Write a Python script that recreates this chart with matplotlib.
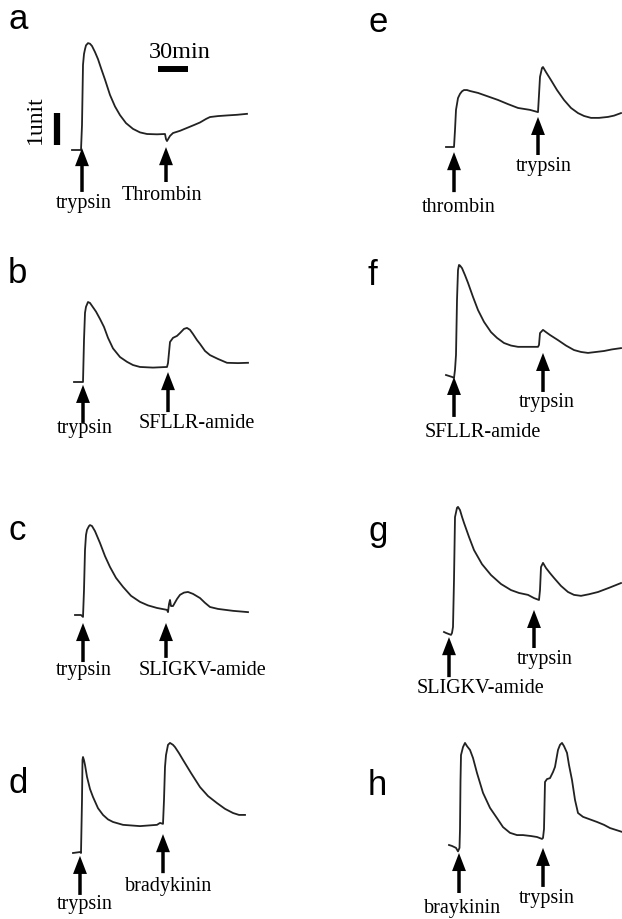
import matplotlib
matplotlib.use('Agg')
import matplotlib.pyplot as plt

# traces: time (min, 0 = first addition) and response (units, 0 = starting baseline)
a_t = [-10, -1, 0, 1, 2, 3, 4, 6, 8, 10, 13, 16, 19, 23, 28, 33, 38, 44, 51, 58, 65, 75, 83, 84, 85, 88, 91,
       98, 105, 112, 118, 124, 128, 136, 145, 155, 165]
a_v = [0, 0, 0.78, 2.66, 3.0, 3.15, 3.27, 3.34, 3.32, 3.25, 3.06, 2.84, 2.56, 2.2, 1.72, 1.36, 1.09, 0.84, 0.66,
       0.55, 0.5, 0.49, 0.5, 0.34, 0.28, 0.44, 0.53, 0.6, 0.69, 0.78, 0.86, 0.97, 1.03, 1.06, 1.08, 1.1, 1.13]

b_t = [-9, -1, 0, 1, 2, 3, 5, 7, 9, 13, 17, 21, 25, 30, 37, 44, 50, 57, 70, 84, 85, 87, 90, 94, 97, 101, 104,
       107, 110, 114, 117, 122, 127, 135, 144, 155, 165]
b_v = [0, 0, 0, 1.31, 2.16, 2.35, 2.5, 2.47, 2.38, 2.2, 1.97, 1.72, 1.38, 1.05, 0.78, 0.63, 0.53, 0.47, 0.45,
       0.47, 0.59, 1.25, 1.38, 1.44, 1.53, 1.66, 1.69, 1.63, 1.5, 1.31, 1.19, 0.97, 0.84, 0.72, 0.6, 0.59, 0.6]

c_t = [-8, -2, 0, 1, 2, 3, 4, 6, 7, 9, 12, 17, 22, 27, 33, 40, 48, 57, 65, 74, 84, 85, 86, 87, 88, 90, 94, 97,
       101, 105, 110, 117, 122, 127, 135, 150, 165]
c_v = [0, 0, -0.06, 0.78, 2.03, 2.5, 2.66, 2.78, 2.81, 2.78, 2.62, 2.25, 1.84, 1.5, 1.16, 0.88, 0.6, 0.41, 0.3,
       0.22, 0.16, 0.09, 0.34, 0.47, 0.28, 0.28, 0.5, 0.63, 0.7, 0.72, 0.66, 0.53, 0.38, 0.25, 0.19, 0.13, 0.09]

d_t = [-8, -1, 0, 1, 1.5, 2, 3, 4, 6, 9, 12, 17, 22, 27, 32, 42, 59, 76, 79, 82, 83, 84, 85, 87, 89, 92, 94,
       98, 102, 110, 119, 127, 136, 144, 152, 158, 164]
d_v = [0, 0.03, 0, 1.66, 2.91, 3.0, 2.9, 2.75, 2.38, 2.0, 1.75, 1.4, 1.19, 1.05, 0.97, 0.88, 0.84, 0.88, 0.94,
       0.91, 1.66, 2.69, 3.06, 3.38, 3.44, 3.38, 3.31, 3.12, 2.91, 2.5, 2.06, 1.78, 1.56, 1.38, 1.25, 1.19, 1.19]

e_t = [-8, 0, 1, 2, 4, 6, 8, 10, 13, 16, 24, 34, 44, 54, 64, 76, 84, 85, 86, 88, 89, 92, 97, 103, 110, 117,
       124, 130, 137, 145, 154, 160, 167]
e_v = [0, 0, 0.53, 1.16, 1.53, 1.66, 1.74, 1.78, 1.78, 1.75, 1.69, 1.58, 1.47, 1.34, 1.22, 1.16, 1.09, 1.63,
       2.19, 2.47, 2.5, 2.34, 2.09, 1.78, 1.47, 1.22, 1.06, 0.97, 0.91, 0.91, 0.94, 0.98, 1.06]

f_t = [-8, -2, 0, 1, 2, 3, 4, 5, 6, 8, 11, 14, 19, 24, 30, 37, 43, 50, 57, 64, 74, 84, 85, 86, 89, 92, 96,
       104, 112, 120, 127, 134, 142, 150, 158, 167]
f_v = [0, -0.06, -0.09, 0.16, 0.63, 2.34, 3.28, 3.44, 3.42, 3.34, 3.12, 2.88, 2.44, 2.03, 1.66, 1.34, 1.16,
       1.0, 0.92, 0.88, 0.88, 0.88, 0.94, 1.31, 1.41, 1.34, 1.25, 1.09, 0.92, 0.78, 0.72, 0.69, 0.72, 0.75, 0.8,
       0.84]

g_t = [-5, -3, 2, 3, 4, 5, 6, 8, 9, 11, 13, 15, 20, 25, 33, 42, 52, 62, 70, 79, 85, 90, 91, 92, 94, 97, 101,
       105, 112, 119, 125, 132, 140, 149, 160, 172]
g_v = [0, -0.03, -0.09, -0.03, 0.16, 1.63, 3.59, 3.88, 3.91, 3.81, 3.6, 3.41, 2.97, 2.56, 2.12, 1.78, 1.5,
       1.31, 1.22, 1.16, 1.06, 1.0, 1.31, 2.03, 2.16, 2.0, 1.84, 1.69, 1.44, 1.25, 1.16, 1.13, 1.18, 1.25, 1.38,
       1.53]

h_t = [-10, -7, -3, -1, 0.5, 1, 1.5, 2, 4, 6, 8, 11, 14, 18, 24, 31, 38, 44, 51, 58, 64, 72, 78, 83, 84, 85,
       86, 88, 91, 94, 96, 99, 101, 103, 105, 108, 110, 113, 116, 119, 124, 131, 138, 145, 151, 157, 163]
h_v = [0, -0.03, -0.09, -0.2, -0.09, 0.5, 2.0, 2.81, 3.06, 3.19, 3.09, 2.97, 2.72, 2.25, 1.63, 1.16, 0.84,
       0.56, 0.38, 0.31, 0.31, 0.28, 0.25, 0.19, 0.22, 0.5, 1.97, 2.06, 2.09, 2.28, 2.44, 2.97, 3.13, 3.19, 3.09,
       2.88, 2.5, 2.03, 1.41, 1.0, 0.88, 0.8, 0.72, 0.63, 0.53, 0.47, 0.41]

# arrows: time, tip, tail (units)
a_arrows = [(0, 0.06, -1.31), (84, 0.09, -1.0)]
b_arrows = [(0, -0.09, -1.28), (85, 0.31, -0.94)]
c_arrows = [(0, -0.25, -1.47), (83, -0.25, -1.34)]
d_arrows = [(-1, -0.09, -1.31), (82, 0.59, -0.63)]
e_arrows = [(0, -0.16, -1.41), (84, 0.94, -0.25)]
f_arrows = [(0, -0.06, -1.31), (89, 0.69, -0.53)]
g_arrows = [(0, -0.16, -1.41), (85, 0.69, -0.5)]
h_arrows = [(0, -0.25, -1.5), (84, -0.09, -1.31)]

# labels: text, time, baseline (units)
a_labels = [('trypsin', 1.5, -1.81), ('Thrombin', 80, -1.56)]
b_labels = [('trypsin', 2, -1.59), ('SFLLR-amide', 114, -1.44)]
c_labels = [('trypsin', 0.5, -1.88), ('SLIGKV-amide', 119, -1.88)]
d_labels = [('trypsin', 4, -1.75), ('bradykinin', 88, -1.19)]
e_labels = [('thrombin', 5, -2.03), ('trypsin', 90, -0.75)]
f_labels = [('SFLLR-amide', 29, -1.94), ('trypsin', 93, -1.0)]
g_labels = [('trypsin', 96, -1.0), ('SLIGKV-amide', 32, -1.91)]
h_labels = [('braykinin', 4, -2.13), ('trypsin', 88, -1.81)]

# panel letter, origin of time/response axes in pixels, letter position (px)
panels = [
    ('a', a_t, a_v, a_arrows, a_labels, 82, 150, 8, 29),
    ('b', b_t, b_v, b_arrows, b_labels, 83, 382, 8, 283),
    ('c', c_t, c_v, c_arrows, c_labels, 83, 615, 8, 540),
    ('d', d_t, d_v, d_arrows, d_labels, 81, 853, 8, 793),
    ('e', e_t, e_v, e_arrows, e_labels, 454, 147, 368, 32),
    ('f', f_t, f_v, f_arrows, f_labels, 454, 375, 368, 285),
    ('g', g_t, g_v, g_arrows, g_labels, 449, 632, 368, 541),
    ('h', h_t, h_v, h_arrows, h_labels, 459, 845, 368, 795),
]

W, H = 622, 919
PX_MIN = 1.0     # px per minute
PX_UNIT = 32.0   # px per unit
XL = (-30, 175)
YL = (-2.5, 4.2)

fig = plt.figure(figsize=(W / 100, H / 100), dpi=100)
serif = 'Liberation Serif'

for letter, t, v, arrows, labels, x0, y0, lx, ly in panels:
    left = x0 + XL[0] * PX_MIN
    width = (XL[1] - XL[0]) * PX_MIN
    bottom = y0 - YL[0] * PX_UNIT
    height = (YL[1] - YL[0]) * PX_UNIT
    ax = fig.add_axes([left / W, (H - bottom) / H, width / W, height / H])
    ax.set_xlim(*XL)
    ax.set_ylim(*YL)
    ax.axis('off')
    ax.patch.set_alpha(0)

    ax.plot(t, v, color='#222222', lw=1.3, clip_on=False)

    for at, tip, tail in arrows:
        ax.annotate('', xy=(at, tip), xytext=(at, tail),
                    arrowprops=dict(facecolor='black', edgecolor='none',
                                    width=2.5, headwidth=10, headlength=13, shrink=0))
    for txt, lt, lb in labels:
        ax.text(lt, lb, txt, ha='center', va='baseline', fontsize=14.5, family=serif)

    fig.text(lx / W, 1 - ly / H, letter, ha='left', va='baseline',
             fontsize=25, family='Liberation Sans')

    if letter == 'a':
        # scale bars
        ax.plot([76, 106], [2.53, 2.53], color='black', lw=4.3, solid_capstyle='butt')
        ax.text(98, 2.88, '30min', ha='center', va='baseline', fontsize=17.5, family=serif)
        ax.plot([-25, -25], [0.16, 1.16], color='black', lw=4.5, solid_capstyle='butt', clip_on=False)
        ax.text(-47, 0.94, '1unit', ha='center', va='center', rotation=90,
                fontsize=17, family=serif)

fig.savefig('out.png', dpi=100)
